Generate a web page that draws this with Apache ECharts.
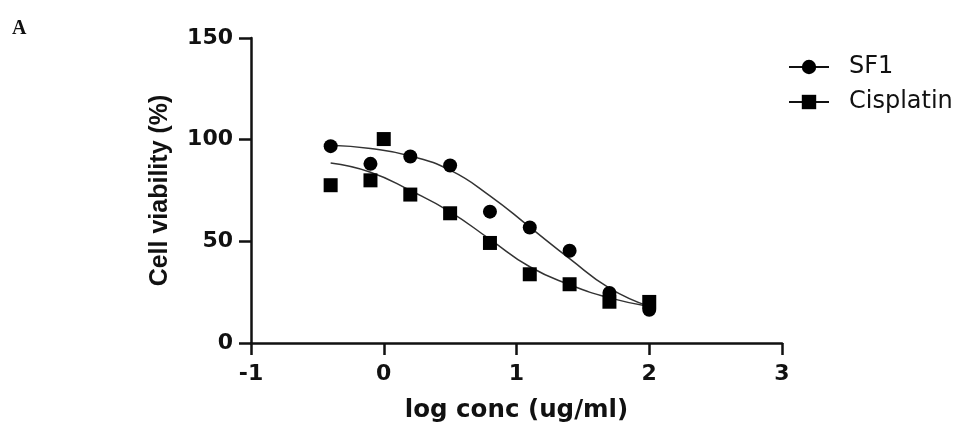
<!DOCTYPE html>
<html>
<head>
<meta charset="utf-8">
<script src="https://cdn.jsdelivr.net/npm/echarts@6/dist/echarts.min.js"></script>
<style>
html,body{margin:0;padding:0;background:#fff;}
#chart{width:957px;height:428px;}
</style>
</head>
<body>
<div id="chart"></div>
<script>
// Measured data points
const sf1X = [-0.4, -0.1, 0.2, 0.5, 0.8, 1.1, 1.4, 1.7, 2.0];
const sf1Y = [96.8, 88.1, 91.7, 87.3, 64.6, 56.8, 45.4, 24.6, 16.3];
const cisX = [-0.4, -0.1, 0.0, 0.2, 0.5, 0.8, 1.1, 1.4, 1.7, 2.0];
const cisY = [77.6, 80.0, 100.3, 73.0, 63.8, 49.2, 33.8, 28.9, 20.3, 20.2];

// Fitted curves
const fitX = [-0.4, -0.1, 0.2, 0.5, 0.8, 1.1, 1.4, 1.7, 2.0];
const fitSF1 = [97.2, 95.6, 92.0, 85.0, 72.4, 57.0, 41.5, 27.0, 18.0];
const fitCis = [88.5, 84.0, 75.0, 64.5, 51.0, 37.5, 28.7, 22.2, 18.0];

const xTicks = [-1, 0, 1, 2, 3];
const yTicks = [0, 50, 100, 150];
const seriesNames = ['SF1', 'Cisplatin'];

const pair = (xs, ys) => xs.map((x, i) => [x, ys[i]]);

const chart = echarts.init(document.getElementById('chart'));
const axisFont = {fontFamily: 'DejaVu Sans', fontWeight: 'bold', fontSize: 22, color: '#111'};

chart.setOption({
  animation: false,
  backgroundColor: '#fff',
  graphic: [{
    type: 'text', left: 12, top: 19,
    style: {text: 'A', font: 'bold 20px "Liberation Serif"', fill: '#111'}
  }],
  legend: {
    data: seriesNames,
    orient: 'vertical',
    left: 783, top: 50,
    itemWidth: 40, itemHeight: 18, itemGap: 11,
    textStyle: {fontFamily: 'DejaVu Sans', fontSize: 24, color: '#111', lineHeight: 24, padding: [0, 0, 0, 15]},
    lineStyle: {width: 2, color: '#111'},
    itemStyle: {color: '#000'}
  },
  grid: {left: 251, right: 175, top: 38, bottom: 82, containLabel: false},
  xAxis: {
    type: 'value', min: xTicks[0], max: xTicks[xTicks.length - 1], interval: 1,
    name: 'log conc (ug/ml)', nameLocation: 'middle', nameGap: 55,
    nameTextStyle: {fontFamily: 'DejaVu Sans', fontWeight: 'bold', fontSize: 24.5, color: '#111'},
    axisLine: {onZero: false, lineStyle: {color: '#111', width: 2.5}},
    axisTick: {length: 12, lineStyle: {color: '#111', width: 2.5}},
    axisLabel: Object.assign({margin: 20}, axisFont),
    splitLine: {show: false}
  },
  yAxis: {
    type: 'value', min: yTicks[0], max: yTicks[yTicks.length - 1], interval: 50,
    name: 'Cell viability (%)', nameLocation: 'middle', nameGap: 78,
    nameTextStyle: {fontFamily: 'Liberation Sans', fontWeight: 'bold', fontSize: 25, color: '#111'},
    axisLine: {show: true, onZero: false, lineStyle: {color: '#111', width: 2.5}},
    axisTick: {show: true, length: 12, lineStyle: {color: '#111', width: 2.5}},
    axisLabel: Object.assign({margin: 18}, axisFont),
    splitLine: {show: false}
  },
  series: [
    {
      name: 'SF1', type: 'line', data: pair(fitX, fitSF1), smooth: true,
      symbol: 'circle', showSymbol: false, color: '#000',
      lineStyle: {color: '#333', width: 1.5}, z: 2
    },
    {
      name: 'Cisplatin', type: 'line', data: pair(fitX, fitCis), smooth: true,
      symbol: 'rect', showSymbol: false, color: '#000',
      lineStyle: {color: '#333', width: 1.5}, z: 2
    },
    {
      name: 'SF1 points', type: 'scatter', data: pair(sf1X, sf1Y),
      symbol: 'circle', symbolSize: 14, itemStyle: {color: '#000', opacity: 1}, z: 3
    },
    {
      name: 'Cisplatin points', type: 'scatter', data: pair(cisX, cisY),
      symbol: 'rect', symbolSize: 14, itemStyle: {color: '#000', opacity: 1}, z: 4
    }
  ]
});
</script>
</body>
</html>
